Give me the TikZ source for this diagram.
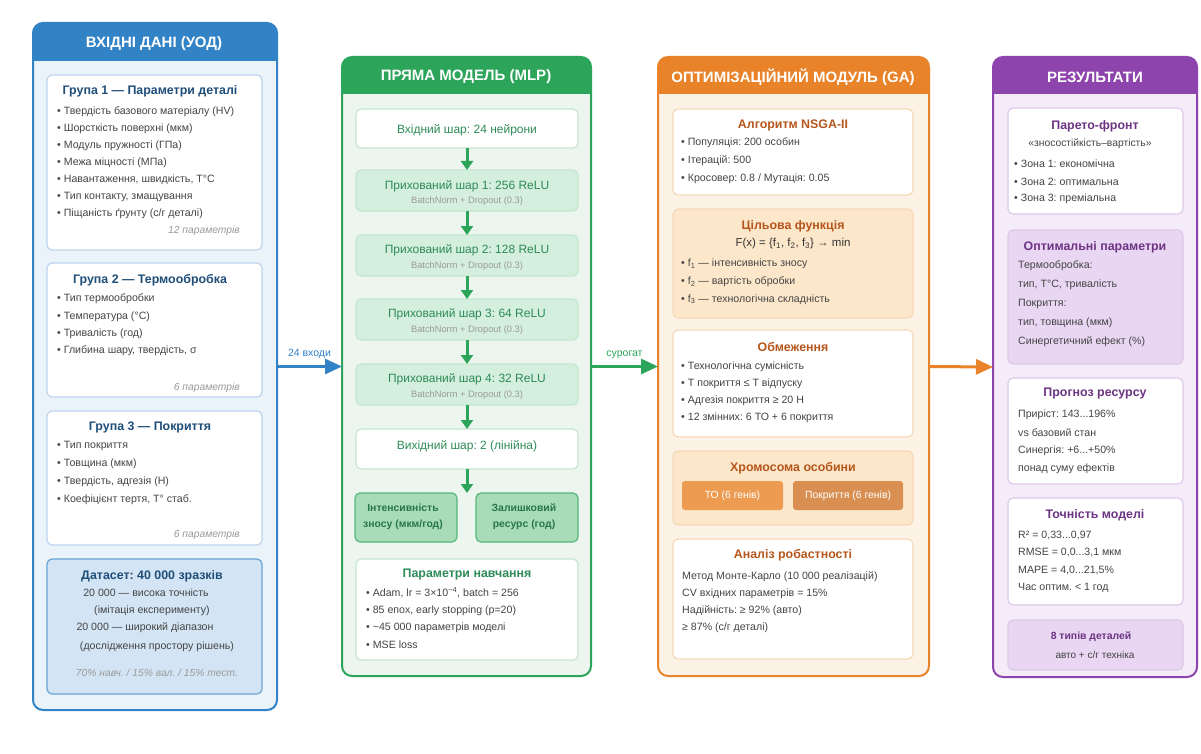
\documentclass[tikz,border=0pt]{standalone}
\usepackage{fontspec}
\setmainfont{Liberation Sans}
\usetikzlibrary{arrows.meta}
\frenchspacing
\definecolor{bA}{HTML}{3282C6}
\definecolor{bAbg}{HTML}{EAF2FA}
\definecolor{bAin}{HTML}{BCD5EC}
\definecolor{bAt}{HTML}{1F4E79}
\definecolor{dsfill}{HTML}{D3E5F5}
\definecolor{dsdraw}{HTML}{6AA3D5}
\definecolor{gB}{HTML}{2CA55A}
\definecolor{gBbg}{HTML}{EDF5EF}
\definecolor{gBin}{HTML}{C5E6CF}
\definecolor{gBhid}{HTML}{D4EFDD}
\definecolor{gBout}{HTML}{A8DCB8}
\definecolor{gBt}{HTML}{2E8B57}
\definecolor{oC}{HTML}{E8832A}
\definecolor{oCbg}{HTML}{FDF2E6}
\definecolor{oCin}{HTML}{F6D9B8}
\definecolor{oCfill}{HTML}{FDE7CB}
\definecolor{oCt}{HTML}{B5561C}
\definecolor{geneA}{HTML}{EC9B50}
\definecolor{geneB}{HTML}{D98F52}
\definecolor{pD}{HTML}{8E44AD}
\definecolor{pDbg}{HTML}{F4ECF8}
\definecolor{pDin}{HTML}{DCC9E8}
\definecolor{pDfill}{HTML}{E8D6F2}
\definecolor{pDt}{HTML}{6C3483}
\definecolor{txt}{HTML}{444444}
\definecolor{mut}{HTML}{9A9A9A}
\newcommand\ddd{...}
\newcommand\bx[6]{\node[#6, minimum width={#4-#2}, minimum height={#5-#3}, inner sep=0pt, outer sep=0pt] (#1) at ({(#2+#4)/2},{(#3+#5)/2}) {};}
\newcommand\hdband[5]{\fill[#5, rounded corners=10pt] (#1,#2) rectangle (#3,#4); \fill[#5] (#1,{#4-12}) rectangle (#3,#4);}
\tikzset{
  outer/.style={rounded corners=10pt, line width=2pt},
  inbox/.style={rounded corners=5pt, line width=1.2pt},
  hd/.style={text=white, font=\bfseries\fontsize{15}{17}\selectfont},
  ttl/.style={font=\bfseries\fontsize{12.4}{14}\selectfont, inner sep=0pt},
  itm/.style={text=txt, font=\fontsize{10.6}{12}\selectfont, anchor=west, inner sep=0pt},
  ctr/.style={text=txt, font=\fontsize{10.6}{12}\selectfont, inner sep=0pt},
  cnt/.style={text=mut, font=\itshape\fontsize{10.3}{12}\selectfont, anchor=east, inner sep=0pt},
  subt/.style={text=mut, font=\fontsize{9.3}{10}\selectfont, inner sep=0pt},
  layer/.style={text=gBt, font=\fontsize{12}{14}\selectfont, inner sep=0pt},
  garrow/.style={draw=gB, line width=3pt, -{Triangle[width=12pt,length=9pt]}},
  harrow/.style={line width=3pt, -{Triangle[width=15pt,length=17pt]}},
}
\begin{document}
\begin{tikzpicture}[x=1pt,y=-1pt]
\fill[white] (0,0) rectangle (1201,754);
\useasboundingbox (0,0) rectangle (1201,754);

% ================= Column A =================
\fill[bAbg, rounded corners=10pt] (33,23) rectangle (277,710);
\hdband{33}{23}{277}{61}{bA}
\bx{colA}{33}{23}{277}{710}{outer, draw=bA}
\node[hd] (hA) at (154,44) {ВХІДНІ ДАНІ (УОД)};

\bx{g1}{47}{75}{262}{250}{inbox, draw=bAin, fill=white}
\node[ttl, text=bAt] (g1t) at (150,91) {Група 1 — Параметри деталі};
\foreach \t [count=\i] in {Твердість базового матеріалу (HV), Шорсткість поверхні (мкм), Модуль пружності (ГПа), Межа міцності (МПа), {Навантаження, швидкість, T°C}, {Тип контакту, змащування}, Піщаність ґрунту (с/г деталі)}
  \node[itm] (g1i\i) at (57,{112+(\i-1)*17}) {• \t};
\node[cnt] (g1c) at (240,231) {12 параметрів};

\bx{g2}{47}{263}{262}{397}{inbox, draw=bAin, fill=white}
\node[ttl, text=bAt] (g2t) at (150,280) {Група 2 — Термообробка};
\foreach \t [count=\i] in {Тип термообробки, Температура (°C), Тривалість (год), {Глибина шару, твердість, σ}}
  \node[itm] (g2i\i) at (57,{299+(\i-1)*17.3}) {• \t};
\node[cnt] (g2c) at (240,388) {6 параметрів};

\bx{g3}{47}{411}{262}{545}{inbox, draw=bAin, fill=white}
\node[ttl, text=bAt] (g3t) at (150,427) {Група 3 — Покриття};
\foreach \t [count=\i] in {Тип покриття, Товщина (мкм), {Твердість, адгезія (Н)}, {Коефіцієнт тертя, T° стаб.}}
  \node[itm] (g3i\i) at (57,{446+(\i-1)*18}) {• \t};
\node[cnt] (g3c) at (240,535) {6 параметрів};

\bx{ds}{47}{559}{262}{694}{inbox, draw=dsdraw, fill=dsfill}
\node[ttl, text=bAt] (dst) at (152,576) {Датасет: 40 000 зразків};
\node[ctr] (ds1) at (146,593) {20 000 — висока точність};
\node[ctr] (ds2) at (152,611) {(імітація експерименту)};
\node[ctr] (ds3) at (145,628) {20 000 — широкий діапазон};
\node[ctr] (ds4) at (157,647) {(дослідження простору рішень)};
\node[subt, font=\itshape\fontsize{10.3}{12}\selectfont] (ds5) at (157,673) {70\% навч. / 15\% вал. / 15\% тест.};

% ================= Column B =================
\fill[gBbg, rounded corners=10pt] (342,57) rectangle (591,676);
\hdband{342}{57}{591}{94}{gB}
\bx{colB}{342}{57}{591}{676}{outer, draw=gB}
\node[hd] (hB) at (466,77) {ПРЯМА МОДЕЛЬ (MLP)};

\bx{inl}{356}{109}{578}{148}{inbox, draw=gBin, fill=white}
\node[layer] (inlt) at (467,130) {Вхідний шар: 24 нейрони};

\bx{h1}{356}{170}{578}{211}{inbox, draw=gBin, fill=gBhid}
\node[layer] (h1t) at (467,186) {Прихований шар 1: 256 ReLU};
\node[subt] (h1s) at (467,201) {BatchNorm + Dropout (0.3)};
\bx{h2}{356}{235}{578}{276}{inbox, draw=gBin, fill=gBhid}
\node[layer] (h2t) at (467,250) {Прихований шар 2: 128 ReLU};
\node[subt] (h2s) at (467,266) {BatchNorm + Dropout (0.3)};
\bx{h3}{356}{299}{578}{340}{inbox, draw=gBin, fill=gBhid}
\node[layer] (h3t) at (467,314) {Прихований шар 3: 64 ReLU};
\node[subt] (h3s) at (467,330) {BatchNorm + Dropout (0.3)};
\bx{h4}{356}{364}{578}{405}{inbox, draw=gBin, fill=gBhid}
\node[layer] (h4t) at (467,379) {Прихований шар 4: 32 ReLU};
\node[subt] (h4s) at (467,395) {BatchNorm + Dropout (0.3)};

\bx{outl}{356}{429}{578}{469}{inbox, draw=gBin, fill=white}
\node[layer] (outlt) at (467,446) {Вихідний шар: 2 (лінійна)};

\bx{o1}{355}{493}{457}{542}{inbox, draw=gB!80, fill=gBout}
\node[inner sep=0pt, align=center, text=gBt!85!black, font=\bfseries\fontsize{10.4}{16}\selectfont] (o1t) at (403,517) {Інтенсивність\\зносу (мкм/год)};
\bx{o2}{476}{493}{578}{542}{inbox, draw=gB!80, fill=gBout}
\node[inner sep=0pt, align=center, text=gBt!85!black, font=\bfseries\fontsize{10.4}{16}\selectfont] (o2t) at (524,517) {Залишковий\\ресурс (год)};

\bx{tr}{356}{559}{578}{660}{inbox, draw=gBin, fill=white}
\node[ttl, text=gBt] (trt) at (467,575) {Параметри навчання};
\foreach \t [count=\i] in {{Adam, lr = 3×10\textsuperscript{−4}, batch = 256}, {85 епох, early stopping (p=20)}, \textasciitilde 45 000 параметрів моделі, MSE loss}
  \node[itm] (tri\i) at (366,{593+(\i-1)*17.3}) {• \t};

\draw[garrow] (inl.south) -- (h1.north);
\draw[garrow] (h1.south) -- (h2.north);
\draw[garrow] (h2.south) -- (h3.north);
\draw[garrow] (h3.south) -- (h4.north);
\draw[garrow] (h4.south) -- (outl.north);
\coordinate (otip) at (467,493);
\draw[garrow] (outl.south) -- (otip);

% ================= Column C =================
\fill[oCbg, rounded corners=10pt] (658,57) rectangle (929,676);
\hdband{658}{57}{929}{94}{oC}
\bx{colC}{658}{57}{929}{676}{outer, draw=oC}
\node[hd] (hC) at (793,77) {ОПТИМІЗАЦІЙНИЙ МОДУЛЬ (GA)};

\bx{ns}{673}{109}{913}{195}{inbox, draw=oCin, fill=white}
\node[ttl, text=oCt] (nst) at (793,125) {Алгоритм NSGA-II};
\foreach \t [count=\i] in {Популяція: 200 особин, Ітерацій: 500, Кросовер: 0.8 / Мутація: 0.05}
  \node[itm] (nsi\i) at (681,{143+(\i-1)*18}) {• \t};

\bx{obj}{673}{209}{913}{318}{inbox, draw=oCin, fill=oCfill}
\node[ttl, text=oCt] (objt) at (793,226) {Цільова функція};
\node[inner sep=0pt, text=black!80, font=\fontsize{11.5}{13}\selectfont] (objf) at (793,244) {F(x) = \{f\textsubscript{1}, f\textsubscript{2}, f\textsubscript{3}\} → min};
\foreach \t [count=\i] in {f\textsubscript{1} — інтенсивність зносу, f\textsubscript{2} — вартість обробки, f\textsubscript{3} — технологічна складність}
  \node[itm] (obji\i) at (681,{264+(\i-1)*17.7}) {• \t};

\bx{con}{673}{330}{913}{437}{inbox, draw=oCin, fill=white}
\node[ttl, text=oCt] (cont) at (793,347) {Обмеження};
\foreach \t [count=\i] in {Технологічна сумісність, T покриття ≤ T відпуску, Адгезія покриття ≥ 20 Н, 12 змінних: 6 ТО + 6 покриття}
  \node[itm] (coni\i) at (681,{367+(\i-1)*16.8}) {• \t};

\bx{chr}{673}{451}{913}{525}{inbox, draw=oCin, fill=oCfill}
\node[ttl, text=oCt] (chrt) at (793,468) {Хромосома особини};
\bx{gn1}{682}{481}{783}{510}{rounded corners=3pt, fill=geneA}
\node[inner sep=0pt, text=white, font=\fontsize{10.4}{12}\selectfont] (gn1t) at (gn1) {ТО (6 генів)};
\bx{gn2}{793}{481}{903}{510}{rounded corners=3pt, fill=geneB}
\node[inner sep=0pt, text=white, font=\fontsize{10.4}{12}\selectfont] (gn2t) at (gn2) {Покриття (6 генів)};

\bx{rob}{673}{539}{913}{659}{inbox, draw=oCin, fill=white}
\node[ttl, text=oCt] (robt) at (793,555) {Аналіз робастності};
\foreach \t [count=\i] in {Метод Монте-Карло (10 000 реалізацій), CV вхідних параметрів = 15\%, Надійність: ≥ 92\% (авто), ≥ 87\% (с/г деталі)}
  \node[itm] (robi\i) at (682,{577+(\i-1)*17}) {\t};

% ================= Column D =================
\fill[pDbg, rounded corners=10pt] (993,57) rectangle (1197,677);
\hdband{993}{57}{1197}{94}{pD}
\bx{colD}{993}{57}{1197}{677}{outer, draw=pD}
\node[hd] (hD) at (1095,77) {РЕЗУЛЬТАТИ};

\bx{par}{1008}{108}{1183}{214}{inbox, draw=pDin, fill=white}
\node[ttl, text=pDt] (part) at (1095,126) {Парето-фронт};
\node[ctr, font=\fontsize{10.3}{12}\selectfont] (pars) at (1090,144) {«зносостійкість–вартість»};
\foreach \t [count=\i] in {Зона 1: економічна, Зона 2: оптимальна, Зона 3: преміальна}
  \node[itm] (pari\i) at (1014,{164+(\i-1)*17.5}) {• \t};

\bx{opt}{1008}{230}{1183}{364}{inbox, draw=pDin, fill=pDfill}
\node[ttl, text=pDt] (optt) at (1095,247) {Оптимальні параметри};
\foreach \t [count=\i] in {Термообробка:, {тип, T°C, тривалість}, Покриття:, {тип, товщина (мкм)}, Синергетичний ефект (\%)}
  \node[itm] (opti\i) at (1018,{266+(\i-1)*19}) {\t};

\bx{res}{1008}{378}{1183}{484}{inbox, draw=pDin, fill=white}
\node[ttl, text=pDt] (rest) at (1095,394) {Прогноз ресурсу};
\foreach \t [count=\i] in {Приріст: 143\ddd196\%, vs базовий стан, Синергія: +6\ddd+50\%, понад суму ефектів}
  \node[itm] (resi\i) at (1018,{415+(\i-1)*18}) {\t};

\bx{acc}{1008}{498}{1183}{605}{inbox, draw=pDin, fill=white}
\node[ttl, text=pDt] (acct) at (1095,515) {Точність моделі};
\foreach \t [count=\i] in {{R² = 0,33\ddd0,97}, {RMSE = 0,0\ddd3,1 мкм}, {MAPE = 4,0\ddd21,5\%}, Час оптим. < 1 год}
  \node[itm] (acci\i) at (1018,{535+(\i-1)*17.8}) {\t};

\bx{typ}{1008}{620}{1183}{670}{inbox, draw=pDin, fill=pDfill}
\node[inner sep=0pt, text=pDt, font=\bfseries\fontsize{10.4}{12}\selectfont] (typt) at (1091,637) {8 типів деталей};
\node[ctr, font=\fontsize{10}{12}\selectfont] (typs) at (1095,655) {авто + с/г техніка};

% ================= Connectors =================
\draw[harrow, draw=bA] (colA.east) -- (colB.west) node[midway, above=6pt, inner sep=0pt, text=bA, font=\fontsize{10.5}{12}\selectfont] (lblA) {24 входи};
\draw[harrow, draw=gB] (colB.east) -- (colC.west) node[midway, above=6pt, inner sep=0pt, text=gB, font=\fontsize{10.5}{12}\selectfont] (lblB) {сурогат};
\draw[harrow, draw=oC] (colC.east) -- (colD.west);
\end{tikzpicture}
\end{document}
